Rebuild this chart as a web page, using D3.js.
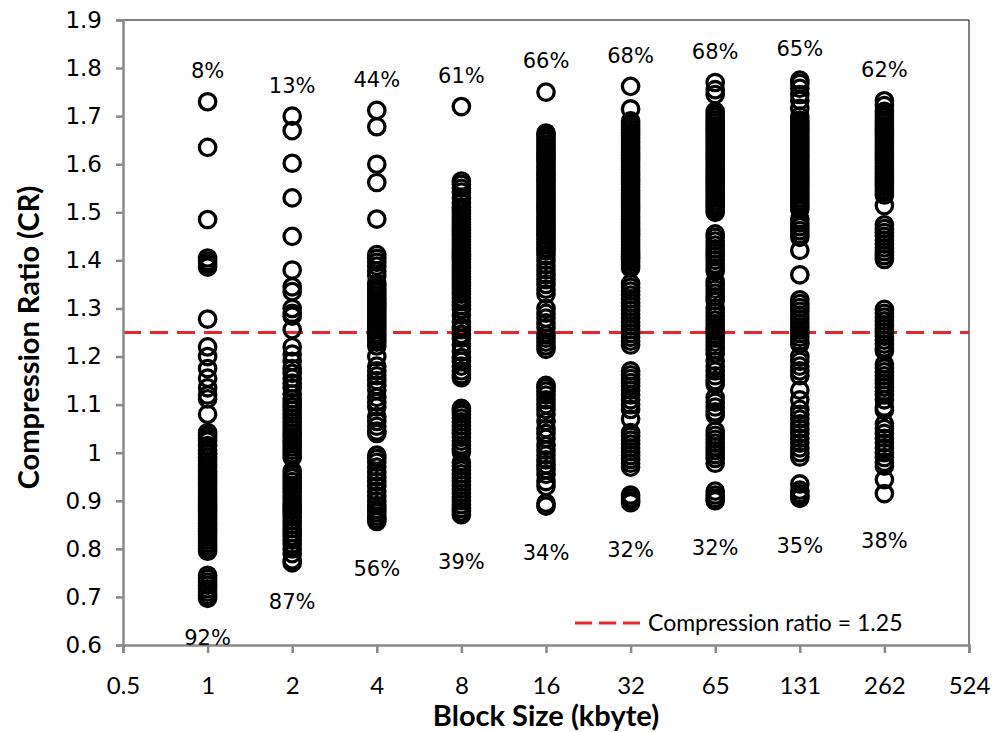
<!DOCTYPE html>
<html>
<head>
<meta charset="utf-8">
<script src="https://cdn.jsdelivr.net/npm/d3@7"></script>
<style>
  html, body { margin: 0; padding: 0; background: #fff; }
  svg { display: block; }
</style>
</head>
<body>
<svg id="chart" width="995" height="732"></svg>
<script>
// Block sizes (kbyte) where the measurements were taken
const blockSizes = [1, 2, 4, 8, 16, 32, 64, 128, 256];

// Compression ratio of every sample, one list per block size
const cr1 = [1.73, 1.635, 1.485, 1.405, 1.398, 1.392, 1.386, 1.278,
  1.22, 1.20, 1.175, 1.155, 1.135, 1.12, 1.112, 1.08, 1.042, 1.036, 1.03, 1.024, 1.015, 1.005,
  0.998, 0.99, 0.983, 0.976, 0.97, 0.962, 0.956, 0.95, 0.944, 0.938, 0.932, 0.926, 0.92, 0.914,
  0.908, 0.902, 0.896, 0.89, 0.884, 0.878, 0.872, 0.866, 0.86, 0.854, 0.848, 0.842, 0.836, 0.83,
  0.824, 0.818, 0.812, 0.806, 0.80, 0.795, 0.745, 0.738, 0.731, 0.724, 0.717, 0.71, 0.703, 0.697];
const cr2 = [1.70, 1.67, 1.602, 1.53, 1.45, 1.38, 1.345, 1.335, 1.30, 1.29, 1.284, 1.256,
  1.22, 1.205, 1.19, 1.175, 1.165, 1.155, 1.145, 1.135, 1.122, 1.112, 1.104, 1.096, 1.088, 1.08,
  1.072, 1.064, 1.056, 1.048, 1.04, 1.033, 1.026, 1.019, 1.012, 1.005, 0.998, 0.99, 0.962, 0.955,
  0.948, 0.94, 0.932, 0.925, 0.918, 0.91, 0.902, 0.895, 0.888, 0.88, 0.873, 0.866, 0.858, 0.85,
  0.842, 0.834, 0.826, 0.818, 0.81, 0.80, 0.79, 0.777, 0.771];
const cr4 = [1.712, 1.678, 1.60, 1.562, 1.486, 1.412, 1.404, 1.396, 1.388, 1.378, 1.368,
  1.352, 1.346, 1.34, 1.334, 1.328, 1.322, 1.316, 1.31, 1.304, 1.298, 1.292, 1.286, 1.28, 1.274,
  1.268, 1.262, 1.256, 1.248, 1.242, 1.236, 1.23, 1.222, 1.20, 1.18, 1.17, 1.16, 1.15, 1.14, 1.13,
  1.115, 1.105, 1.095, 1.075, 1.065, 1.055, 1.045, 1.04, 0.995, 0.988, 0.98, 0.97, 0.96, 0.95,
  0.94, 0.93, 0.92, 0.91, 0.90, 0.89, 0.882, 0.875, 0.868, 0.862, 0.857];
const cr8 = [1.72, 1.565, 1.558, 1.55, 1.542, 1.53, 1.52, 1.51, 1.504, 1.498, 1.492, 1.486, 1.48,
  1.474, 1.468, 1.462, 1.456, 1.45, 1.444, 1.438, 1.432, 1.426, 1.42, 1.414, 1.408, 1.402, 1.396,
  1.39, 1.384, 1.378, 1.372, 1.366, 1.36, 1.354, 1.348, 1.342, 1.336, 1.33, 1.322, 1.314, 1.306,
  1.298, 1.286, 1.272, 1.262, 1.256, 1.246, 1.238, 1.224, 1.21, 1.198, 1.19, 1.18, 1.17, 1.162,
  1.156, 1.092, 1.086, 1.08, 1.072, 1.064, 1.056, 1.048, 1.04, 1.032, 1.024, 1.016, 1.008, 1.002,
  0.98, 0.972, 0.964, 0.956, 0.948, 0.94, 0.932, 0.924, 0.916, 0.908, 0.90, 0.892, 0.884, 0.877, 0.871];
const cr16 = [1.75, 1.665, 1.66, 1.654, 1.648, 1.642, 1.636, 1.63, 1.624, 1.618, 1.612, 1.606,
  1.60, 1.594, 1.588, 1.582, 1.576, 1.57, 1.564, 1.558, 1.552, 1.546, 1.54, 1.534, 1.528, 1.522,
  1.516, 1.51, 1.504, 1.498, 1.492, 1.486, 1.48, 1.474, 1.468, 1.462, 1.456, 1.45, 1.444, 1.438,
  1.432, 1.426, 1.42, 1.41, 1.40, 1.39, 1.38, 1.37, 1.36, 1.35, 1.34, 1.33, 1.30, 1.29, 1.28, 1.27,
  1.26, 1.245, 1.238, 1.23, 1.222, 1.215, 1.14, 1.135, 1.128, 1.12, 1.11, 1.10, 1.09, 1.08, 1.065,
  1.05, 1.04, 1.03, 1.015, 1.005, 0.995, 0.985, 0.975, 0.965, 0.955, 0.94, 0.93, 0.895, 0.889];
const cr32 = [1.762, 1.715, 1.69, 1.684, 1.678, 1.672, 1.666, 1.66, 1.654, 1.648, 1.642, 1.636,
  1.63, 1.624, 1.618, 1.612, 1.606, 1.60, 1.594, 1.588, 1.582, 1.576, 1.57, 1.564, 1.558, 1.552,
  1.546, 1.54, 1.534, 1.528, 1.522, 1.516, 1.51, 1.504, 1.498, 1.492, 1.486, 1.48, 1.474, 1.468,
  1.462, 1.456, 1.45, 1.444, 1.438, 1.432, 1.426, 1.42, 1.414, 1.408, 1.402, 1.396, 1.39, 1.384,
  1.352, 1.344, 1.336, 1.328, 1.32, 1.312, 1.304, 1.296, 1.288, 1.28, 1.272, 1.264, 1.256,
  1.248, 1.24, 1.232, 1.224, 1.17, 1.162, 1.154, 1.146, 1.138, 1.13, 1.12, 1.11, 1.10, 1.09, 1.07,
  1.042, 1.034, 1.026, 1.018, 1.01, 1.002, 0.994, 0.986, 0.978, 0.97, 0.912, 0.906, 0.90, 0.896];
const cr65 = [1.77, 1.755, 1.745, 1.71, 1.704, 1.698, 1.692, 1.686, 1.68, 1.674, 1.668, 1.662,
  1.656, 1.65, 1.644, 1.638, 1.632, 1.626, 1.62, 1.614, 1.608, 1.602, 1.596, 1.59, 1.584, 1.578,
  1.572, 1.566, 1.56, 1.554, 1.548, 1.542, 1.536, 1.53, 1.524, 1.518, 1.512, 1.506, 1.50, 1.455,
  1.448, 1.44, 1.432, 1.424, 1.416, 1.408, 1.40, 1.392, 1.384, 1.378, 1.356, 1.348, 1.34, 1.332,
  1.324, 1.316, 1.30, 1.292, 1.284, 1.276, 1.268, 1.26, 1.254, 1.246, 1.238, 1.23, 1.222, 1.214,
  1.206, 1.19, 1.18, 1.17, 1.16, 1.15, 1.142, 1.115, 1.105, 1.095, 1.085, 1.078, 1.045, 1.036,
  1.028, 1.02, 1.012, 1.004, 0.996, 0.988, 0.978, 0.92, 0.912, 0.905, 0.90];
const cr131 = [1.775, 1.768, 1.758, 1.745, 1.733, 1.716, 1.70, 1.692, 1.686, 1.68, 1.674, 1.668,
  1.662, 1.656, 1.65, 1.644, 1.638, 1.632, 1.626, 1.62, 1.614, 1.608, 1.602, 1.596, 1.59, 1.584,
  1.578, 1.572, 1.566, 1.56, 1.554, 1.548, 1.542, 1.536, 1.53, 1.524, 1.518, 1.512, 1.506, 1.486,
  1.478, 1.47, 1.462, 1.454, 1.448, 1.421, 1.37, 1.318, 1.31, 1.302, 1.294, 1.286, 1.278, 1.27,
  1.262, 1.255, 1.248, 1.24, 1.232, 1.226, 1.20, 1.19, 1.18, 1.17, 1.16, 1.13, 1.11, 1.09, 1.08,
  1.07, 1.06, 1.05, 1.04, 1.03, 1.02, 1.01, 1.0, 0.991, 0.935, 0.922, 0.915, 0.91, 0.905];
const cr262 = [1.732, 1.722, 1.71, 1.704, 1.698, 1.692, 1.686, 1.68, 1.674, 1.668, 1.662, 1.656,
  1.65, 1.644, 1.638, 1.632, 1.626, 1.62, 1.614, 1.608, 1.602, 1.596, 1.59, 1.584, 1.578, 1.572,
  1.566, 1.56, 1.554, 1.548, 1.542, 1.536, 1.514, 1.474, 1.466, 1.458, 1.45, 1.442, 1.434, 1.426,
  1.418, 1.41, 1.402, 1.298, 1.29, 1.282, 1.274, 1.266, 1.258, 1.25, 1.242, 1.234, 1.226, 1.218,
  1.212, 1.184, 1.176, 1.168, 1.16, 1.152, 1.144, 1.136, 1.128, 1.12, 1.11, 1.095, 1.088, 1.06,
  1.05, 1.04, 1.03, 1.02, 1.01, 1.0, 0.99, 0.98, 0.972, 0.944, 0.915];

// Share of samples above / below the threshold, per block size
const pctAbove = ["8%", "13%", "44%", "61%", "66%", "68%", "68%", "65%", "62%"];
const pctBelow = ["92%", "87%", "56%", "39%", "34%", "32%", "32%", "35%", "38%"];

// Axis ticks
const xTickValues = [0.5, 1, 2, 4, 8, 16, 32, 64, 128, 256, 512];
const xTickLabels = ["0.5", "1", "2", "4", "8", "16", "32", "65", "131", "262", "524"];
const yTickValues = [0.6, 0.7, 0.8, 0.9, 1.0, 1.1, 1.2, 1.3, 1.4, 1.5, 1.6, 1.7, 1.8, 1.9];
const yTickLabels = ["0.6", "0.7", "0.8", "0.9", "1", "1.1", "1.2", "1.3", "1.4", "1.5", "1.6", "1.7", "1.8", "1.9"];

const threshold = 1.25;
const legendLabel = "Compression ratio = 1.25";

const columns = [cr1, cr2, cr4, cr8, cr16, cr32, cr65, cr131, cr262];

const svg = d3.select("#chart");
const plotLeft = 123, plotRight = 969, plotTop = 20, plotBottom = 645;

const x = d3.scaleLog().base(2).domain([0.5, 512]).range([plotLeft, plotRight]);
const y = d3.scaleLinear().domain([0.6, 1.9]).range([plotBottom, plotTop]);

const axisGrey = "#898989";
const calibriLike = "Lato, 'Open Sans', sans-serif";
const verdanaLike = "'DejaVu Sans', Verdana, sans-serif";

// Plot frame (top and right edges)
svg.append("path")
  .attr("d", `M${plotLeft},${plotTop}H${plotRight}V${plotBottom}`)
  .attr("fill", "none").attr("stroke", "#000").attr("stroke-width", 1);

// Threshold line
svg.append("line")
  .attr("x1", plotLeft).attr("x2", plotRight)
  .attr("y1", y(threshold)).attr("y2", y(threshold))
  .attr("stroke", "#e8262b").attr("stroke-width", 3)
  .attr("stroke-dasharray", "18,9");

// Samples
const points = [];
columns.forEach((vals, i) => vals.forEach(v => points.push({ b: blockSizes[i], v })));
svg.append("g").selectAll("circle").data(points).join("circle")
  .attr("cx", d => x(d.b)).attr("cy", d => y(d.v)).attr("r", 8.2)
  .attr("fill", "none").attr("stroke", "#000").attr("stroke-width", 3.3);

// Axes
const yAxis = svg.append("g").attr("transform", `translate(${plotLeft},0)`)
  .call(d3.axisLeft(y).tickValues(yTickValues)
    .tickFormat((d, i) => yTickLabels[i]).tickSize(7).tickPadding(14));
const xAxis = svg.append("g").attr("transform", `translate(0,${plotBottom})`)
  .call(d3.axisBottom(x).tickValues(xTickValues)
    .tickFormat((d, i) => xTickLabels[i]).tickSize(8).tickPadding(24));
[xAxis, yAxis].forEach(g => {
  g.select(".domain").attr("stroke", axisGrey).attr("stroke-width", 2.5);
  g.selectAll(".tick line").attr("stroke", axisGrey).attr("stroke-width", 2.5);
  g.selectAll(".tick text").attr("fill", "#000");
});
yAxis.selectAll(".tick text").attr("font-family", verdanaLike).attr("font-size", 23);
xAxis.selectAll(".tick text").attr("font-family", calibriLike).attr("font-size", 24);

// Percent annotations above and below each column
const labels = svg.append("g").attr("font-family", verdanaLike).attr("font-size", 21)
  .attr("text-anchor", "middle").attr("fill", "#000");
columns.forEach((vals, i) => {
  const cx = x(blockSizes[i]);
  labels.append("text").attr("x", cx).attr("y", y(d3.max(vals)) - 31)
    .attr("dy", "0.35em").text(pctAbove[i]);
  labels.append("text").attr("x", cx).attr("y", y(d3.min(vals)) + (i < 2 ? 39 : 47))
    .attr("dy", "0.35em").text(pctBelow[i]);
});

// Axis titles
svg.append("text").attr("x", (plotLeft + plotRight) / 2).attr("y", 716).attr("dy", "0.35em")
  .attr("text-anchor", "middle").attr("font-family", calibriLike).attr("font-weight", "bold")
  .attr("font-size", 29).text("Block Size (kbyte)");
svg.append("text").attr("transform", `translate(29,${(plotTop + plotBottom) / 2 + 5}) rotate(-90)`)
  .attr("dy", "0.35em").attr("text-anchor", "middle").attr("font-family", calibriLike)
  .attr("font-weight", "bold").attr("font-size", 29).text("Compression Ratio (CR)");

// Legend
const legend = svg.append("g").attr("transform", "translate(575,623)");
legend.append("line").attr("x1", 0).attr("x2", 66).attr("y1", 0).attr("y2", 0)
  .attr("stroke", "#e8262b").attr("stroke-width", 3).attr("stroke-dasharray", "17,7");
legend.append("text").attr("x", 73).attr("dy", "0.35em").attr("font-family", calibriLike)
  .attr("font-size", 23).attr("fill", "#000").text(legendLabel);
</script>
</body>
</html>
